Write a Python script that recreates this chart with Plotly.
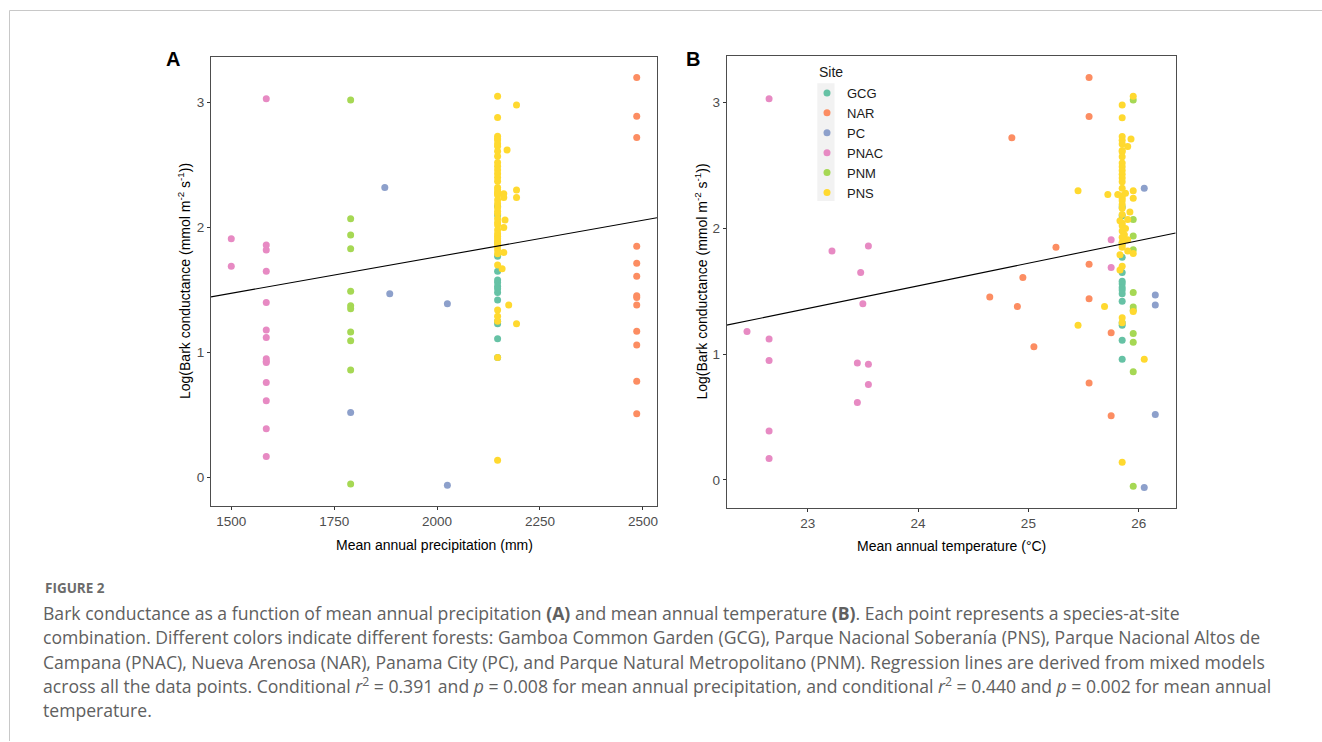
import plotly.graph_objects as go

W, H = 1322, 742

sites = ["GCG", "NAR", "PC", "PNAC", "PNM", "PNS"]
site_colors = ["#66C2A5", "#FC8D62", "#8DA0CB", "#E78AC3", "#A6D854", "#FFD92F"]

# ---- data: log bark conductance (y), mean annual precipitation (mm), mean annual temperature (C)
gcg_y = [2.17, 2.10, 1.88, 1.77, 1.65, 1.58, 1.56, 1.53, 1.51, 1.48, 1.42, 1.25, 1.23, 1.11, 0.96]
gcg_precip = [2147] * 15
gcg_temp = [25.85] * 15

nar_y = [3.20, 2.89, 2.72, 1.85, 1.715, 1.61, 1.455, 1.44, 1.38, 1.17, 1.06, 0.77, 0.51]
nar_precip = [2485] * 13
nar_temp = [25.55, 25.55, 24.85, 25.25, 25.55, 24.95, 24.65, 25.55, 24.90, 25.75, 25.05, 25.55, 25.75]

pc_y = [2.32, 1.47, 1.39, 0.52, -0.06]
pc_precip = [1873, 1885, 2025, 1790, 2025]
pc_temp = [26.05, 26.15, 26.15, 26.15, 26.05]

pnac_y = [3.03, 1.86, 1.82, 1.65, 1.40, 1.18, 1.12, 0.95, 0.93, 0.92, 0.76, 0.615, 0.39, 0.17, 1.91, 1.69]
pnac_precip = [1585] * 14 + [1500, 1500]
pnac_temp = [22.65, 23.55, 23.22, 23.48, 23.50, 22.45, 22.65, 22.65, 23.45, 23.55, 23.55, 23.45,
             22.65, 22.65, 25.75, 25.75]

pnm_y = [3.02, 2.07, 1.94, 1.83, 1.49, 1.375, 1.35, 1.165, 1.095, 0.86, -0.05]
pnm_precip = [1790] * 11
pnm_temp = [25.95] * 11

pns_y = [3.05, 2.98, 2.88, 2.73, 2.71, 2.70, 2.67, 2.65, 2.62, 2.61, 2.57, 2.52, 2.49, 2.46,
         2.43, 2.40, 2.37, 2.32, 2.30, 2.30, 2.28, 2.27, 2.27, 2.26, 2.24, 2.24, 2.22, 2.19,
         2.16, 2.13, 2.11, 2.07, 2.06, 2.04, 2.02, 2.00, 1.98, 1.95, 1.93, 1.91, 1.89, 1.87,
         1.85, 1.82, 1.80, 1.79, 1.70, 1.67, 1.38, 1.34, 1.29, 1.25, 1.23, 0.96, 0.14]
pns_precip = [2147, 2193, 2147, 2147, 2147, 2147, 2147, 2147, 2170, 2147, 2147, 2147, 2147, 2147,
              2147, 2147, 2147, 2147, 2193, 2147, 2147, 2162, 2147, 2147, 2193, 2162, 2147, 2147,
              2147, 2147, 2147, 2147, 2165, 2147, 2147, 2162, 2147, 2147, 2147, 2147, 2147, 2147,
              2147, 2147, 2162, 2147, 2147, 2158, 2174, 2147, 2147, 2147, 2193, 2147, 2147]
pns_temp = [25.95, 25.85, 25.85, 25.85, 25.93, 25.85, 25.85, 25.90, 25.85, 25.85, 25.85, 25.85,
            25.85, 25.85, 25.85, 25.85, 25.85, 25.85, 25.45, 25.95, 25.88, 25.81, 25.72, 25.85,
            25.95, 25.85, 25.85, 25.85, 25.85, 25.92, 25.85, 25.90, 25.83, 25.85, 25.85, 25.88,
            25.85, 25.87, 25.85, 25.90, 25.85, 25.85, 25.85, 25.90, 25.95, 25.83, 25.85, 25.83,
            25.69, 25.95, 25.85, 25.85, 25.45, 26.05, 25.85]

site_y = [gcg_y, nar_y, pc_y, pnac_y, pnm_y, pns_y]
site_precip = [gcg_precip, nar_precip, pc_precip, pnac_precip, pnm_precip, pns_precip]
site_temp = [gcg_temp, nar_temp, pc_temp, pnac_temp, pnm_temp, pns_temp]

# mixed-model regression lines (intercept, slope)
precip_fit = (0.598, 0.000584)
temp_fit = (-2.777, 0.180)
precip_range = [1450.75, 2534.25]
temp_range = [22.265, 26.335]
precip_ticks = [1500, 1750, 2000, 2250, 2500]
temp_ticks = [23, 24, 25, 26]
y_ticks = [0, 1, 2, 3]

fig = go.Figure()
for name, col, ys, ps, ts in zip(sites, site_colors, site_y, site_precip, site_temp):
    fig.add_trace(go.Scatter(x=ps, y=ys, mode="markers", name=name,
                             marker=dict(color=col, size=7, line=dict(width=0)),
                             xaxis="x", yaxis="y", showlegend=True))
    fig.add_trace(go.Scatter(x=ts, y=ys, mode="markers", name=name,
                             marker=dict(color=col, size=7, line=dict(width=0)),
                             xaxis="x2", yaxis="y2", showlegend=False))

fig.add_trace(go.Scatter(x=precip_range,
                         y=[precip_fit[0] + precip_fit[1] * v for v in precip_range],
                         mode="lines", line=dict(color="black", width=1.1),
                         xaxis="x", yaxis="y", showlegend=False, hoverinfo="skip"))
fig.add_trace(go.Scatter(x=temp_range,
                         y=[temp_fit[0] + temp_fit[1] * v for v in temp_range],
                         mode="lines", line=dict(color="black", width=1.1),
                         xaxis="x2", yaxis="y2", showlegend=False, hoverinfo="skip"))

def px(x):
    return x / W

def py(y):
    return 1 - y / H

tickfont = dict(family="Liberation Sans, Arial, sans-serif", size=13.5, color="#4d4d4d")
axis_common = dict(showgrid=False, zeroline=False, showline=True, mirror=True,
                   linecolor="#4d4d4d", linewidth=1, ticks="outside", ticklen=3,
                   tickwidth=1, tickcolor="#333333", tickfont=tickfont)

fig.update_layout(
    width=W, height=H,
    margin=dict(l=0, r=0, t=0, b=0),
    paper_bgcolor="white", plot_bgcolor="rgba(0,0,0,0)",
    xaxis=dict(domain=[px(211), px(657)], range=precip_range, tickvals=precip_ticks,
               anchor="y", **axis_common),
    yaxis=dict(domain=[py(506.1), py(56.6)], range=[-0.2275, 3.3665], tickvals=y_ticks,
               anchor="x", **axis_common),
    xaxis2=dict(domain=[px(726.6), px(1175.7)], range=temp_range, tickvals=temp_ticks,
                anchor="y2", **axis_common),
    yaxis2=dict(domain=[py(508.1), py(55.6)], range=[-0.2235, 3.3735], tickvals=y_ticks,
                anchor="x2", **axis_common),
    legend=dict(x=px(807), y=py(78), xanchor="left", yanchor="top",
                bgcolor="rgba(0,0,0,0)", tracegroupgap=0,
                font=dict(family="Liberation Sans, Arial, sans-serif", size=13, color="#1a1a1a")),
    showlegend=True,
)

shapes = [
    # card border lines
    dict(type="line", xref="paper", yref="paper", x0=px(9.5), x1=1, y0=py(10.5), y1=py(10.5),
         line=dict(color="#c8c8c8", width=1)),
    dict(type="line", xref="paper", yref="paper", x0=px(9.5), x1=px(9.5), y0=py(10.5), y1=py(741),
         line=dict(color="#c8c8c8", width=1)),
    # legend key background
    dict(type="rect", xref="paper", yref="paper", x0=px(817.3), x1=px(834.5),
         y0=py(201), y1=py(83.3), fillcolor="#F2F2F2", line=dict(width=0), layer="below"),
]
fig.update_layout(shapes=shapes)

ann = []
axis_title_font = dict(family="Liberation Sans, Arial, sans-serif", size=14, color="black")
ann.append(dict(text="Mean annual precipitation (mm)", x=px(434), y=py(545), xref="paper",
                yref="paper", showarrow=False, xanchor="center", yanchor="middle",
                font=axis_title_font))
ann.append(dict(text="Mean annual temperature (°C)", x=px(951), y=py(546), xref="paper",
                yref="paper", showarrow=False, xanchor="center", yanchor="middle",
                font=axis_title_font))
ytitle = "Log(Bark conductance (mmol m<sup>-2</sup> s<sup>-1</sup>))"
ann.append(dict(text=ytitle, x=px(184), y=py(281), xref="paper", yref="paper",
                showarrow=False, textangle=-90, xanchor="center", yanchor="middle",
                font=axis_title_font))
ann.append(dict(text=ytitle, x=px(701.5), y=py(282), xref="paper", yref="paper",
                showarrow=False, textangle=-90, xanchor="center", yanchor="middle",
                font=axis_title_font))
panel_font = dict(family="Liberation Sans, Arial, sans-serif", size=20, color="black")
ann.append(dict(text="<b>A</b>", x=px(172.5), y=py(59), xref="paper", yref="paper",
                showarrow=False, xanchor="center", yanchor="middle", font=panel_font))
ann.append(dict(text="<b>B</b>", x=px(692.5), y=py(59), xref="paper", yref="paper",
                showarrow=False, xanchor="center", yanchor="middle", font=panel_font))
ann.append(dict(text="Site", x=px(816.5), y=py(71.7), xref="paper", yref="paper",
                showarrow=False, xanchor="left", yanchor="middle",
                font=dict(family="Liberation Sans, Arial, sans-serif", size=14, color="#1a1a1a")))

cap_font = dict(family="Open Sans, Noto Sans, sans-serif", size=17.6, color="#606060")
caption_lines = [
    "Bark conductance as a function of mean annual precipitation <b>(A)</b> and mean annual temperature <b>(B)</b>. Each point represents a species-at-site",
    "combination. Different colors indicate different forests: Gamboa Common Garden (GCG), Parque Nacional Soberanía (PNS), Parque Nacional Altos de",
    "Campana (PNAC), Nueva Arenosa (NAR), Panama City (PC), and Parque Natural Metropolitano (PNM). Regression lines are derived from mixed models",
    "across all the data points. Conditional <i>r</i><sup>2</sup> = 0.391 and <i>p</i> = 0.008 for mean annual precipitation, and conditional <i>r</i><sup>2</sup> = 0.440 and <i>p</i> = 0.002 for mean annual",
    "temperature.",
]
ann.append(dict(text="<b>FIGURE 2</b>", x=px(43), y=py(588), xref="paper", yref="paper",
                showarrow=False, xanchor="left", yanchor="middle",
                font=dict(family="Open Sans, Noto Sans, sans-serif", size=13.5, color="#6b6b6b")))
for i, line in enumerate(caption_lines):
    ann.append(dict(text=line, x=px(41), y=py(612.7 + 24.4 * i), xref="paper", yref="paper",
                    showarrow=False, xanchor="left", yanchor="middle", align="left",
                    font=cap_font))
fig.update_layout(annotations=ann)

fig.write_html("out.html", config={"displayModeBar": False},
               post_script="document.body.style.margin='0';")
